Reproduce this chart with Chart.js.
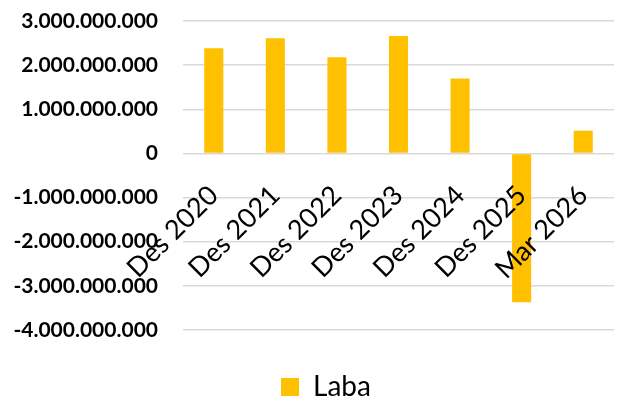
<!DOCTYPE html>
<html>
<head>
<meta charset="utf-8">
<script src="https://cdn.jsdelivr.net/npm/chart.js@4.4.1/dist/chart.umd.min.js"></script>
<style>
    html, body { margin: 0; padding: 0; background: #fff; }
    #wrap { width: 621px; height: 401px; }
</style>
</head>
<body>
<div id="wrap"><canvas id="myChart"></canvas></div>
<script>
const periods = ["Des 2020", "Des 2021", "Des 2022", "Des 2023", "Des 2024", "Des 2025", "Mar 2026"];
const laba = [2380000000, 2610000000, 2180000000, 2660000000, 1700000000, -3370000000, 515000000];
const yMin = -4000000000;
const yMax = 3000000000;
const yStep = 1000000000;

// thousands with dots, like the Indonesian sheet
function formatRibuan(v) {
    let s = Math.abs(v).toString().replace(/\B(?=(\d{3})+(?!\d))/g, ".");
    return (v < 0 ? "-" : "") + s;
}

// the sheet's legend sits a bit right of the canvas middle
const legendNudge = {
    id: "legendNudge",
    afterLayout: function(chart) {
        if (chart.legend) {
            chart.legend.left += 19;
            chart.legend.right += 19;
        }
    }
};

(function() {
    let ctx = document.getElementById("myChart");
    if (ctx != null) {
        new Chart(ctx.getContext("2d"), {
            type: "bar",
            data: {
                labels: periods,
                datasets: [{
                    label: "Laba",
                    data: laba,
                    backgroundColor: "#FFC000",
                    barPercentage: 0.31,
                    categoryPercentage: 1
                }]
            },
            plugins: [legendNudge],
            options: {
                responsive: true,
                maintainAspectRatio: false,
                animation: false,
                layout: { padding: { top: 21, right: 7, bottom: -10, left: 0 } },
                scales: {
                    x: {
                        position: { y: 0 },
                        // labels sit on the zero line, don't let them eat layout room
                        afterFit: function(scale) {
                            scale.paddingLeft = 0;
                            scale.paddingRight = 0;
                        },
                        grid: { display: false, drawTicks: false },
                        border: { display: false },
                        ticks: {
                            z: 1,
                            autoSkip: false,
                            minRotation: 45,
                            maxRotation: 45,
                            padding: 26,
                            color: "#000",
                            font: { family: "Lato", size: 27 }
                        }
                    },
                    y: {
                        min: yMin,
                        max: yMax,
                        afterFit: function(scale) {
                            scale.width = 183;
                            scale.paddingTop = 0;
                            scale.paddingBottom = 0;
                        },
                        grid: { color: "#D9D9D9", lineWidth: 1.5, drawTicks: false },
                        border: { display: false },
                        ticks: {
                            stepSize: yStep,
                            padding: 25,
                            color: "#000",
                            font: { family: "Lato", size: 21, weight: "bold" },
                            callback: function(v) { return formatRibuan(v); }
                        }
                    }
                },
                plugins: {
                    tooltip: { enabled: false },
                    legend: {
                        position: "bottom",
                        title: { display: true, text: "", font: { size: 1, lineHeight: 1 }, padding: { top: 32, bottom: 0 } },
                        labels: {
                            boxWidth: 18,
                            boxHeight: 18,
                            padding: 10,
                            color: "#000",
                            font: { family: "Lato", size: 28 }
                        }
                    }
                }
            }
        });
    }
})();
</script>
</body>
</html>
